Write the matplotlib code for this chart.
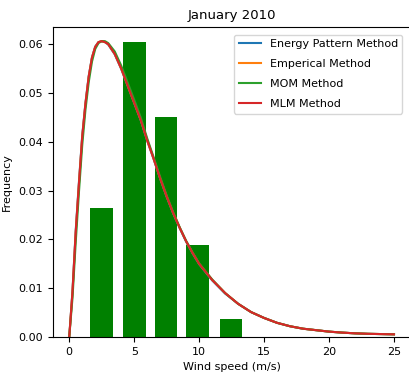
import matplotlib
matplotlib.use("Agg")
import matplotlib.pyplot as plt

plt.rcParams["font.size"] = 8

# histogram bars
bar_x = [2.5, 5.0, 7.45, 9.9, 12.45]
bar_h = [0.0264, 0.0604, 0.0450, 0.0188, 0.0037]

# fitted curves, values
speed = [0, 0.25, 0.5, 0.75, 1.0, 1.25, 1.5, 1.75, 2.0, 2.25, 2.5, 2.75, 3.0,
         3.5, 4.0, 4.5, 5.0, 5.5, 6.0, 6.5, 7.0, 7.5, 8.0, 8.5, 9.0, 9.5, 10.0,
         11, 12, 13, 14, 15, 16, 17, 18, 19, 20, 21, 22, 23, 24, 25]
mlm = [0, 0.0092, 0.0215, 0.0315, 0.0410, 0.0478, 0.0533, 0.0572, 0.0594,
       0.0604, 0.0606, 0.0604, 0.0600, 0.0580, 0.0550, 0.0515, 0.0480, 0.0445,
       0.0403, 0.0365, 0.0325, 0.0288, 0.0254, 0.0224, 0.0196, 0.0172, 0.0150,
       0.0117, 0.0090, 0.0068, 0.0051, 0.0039, 0.0029, 0.0022, 0.0017, 0.0014,
       0.0011, 0.0009, 0.00075, 0.00065, 0.0006, 0.00055]
mom = [0, 0.0080, 0.0195, 0.0298, 0.0393, 0.0466, 0.0522, 0.0564, 0.0590,
       0.0602, 0.0606, 0.0606, 0.0602, 0.0585, 0.0556, 0.0521, 0.0486, 0.0450,
       0.0407, 0.0368, 0.0328, 0.0290, 0.0256, 0.0225, 0.0197, 0.0173, 0.0151,
       0.0118, 0.0090, 0.0068, 0.0051, 0.0039, 0.0029, 0.0022, 0.0017, 0.0014,
       0.0011, 0.0009, 0.00075, 0.00065, 0.0006, 0.00055]
energy = [0, 0.0095, 0.0219, 0.0319, 0.0413, 0.0480, 0.0535, 0.0573, 0.0595,
          0.0604, 0.0606, 0.0604, 0.0599, 0.0579, 0.0549, 0.0514, 0.0479, 0.0444,
          0.0402, 0.0364, 0.0324, 0.0287, 0.0253, 0.0223, 0.0195, 0.0171, 0.0149,
          0.0116, 0.0089, 0.0068, 0.0051, 0.0039, 0.0029, 0.0022, 0.0017, 0.0014,
          0.0011, 0.0009, 0.00075, 0.00065, 0.0006, 0.00055]
emperical = mlm

fig = plt.figure(figsize=(4.09, 3.84), dpi=100)
ax = fig.add_axes([0.1296, 0.1224, 0.8734, 0.8073])

ax.bar(bar_x, bar_h, width=1.75, color="green")
ax.plot(speed, energy, label="Energy Pattern Method")
ax.plot(speed, emperical, label="Emperical Method")
ax.plot(speed, mom, label="MOM Method")
ax.plot(speed, mlm, label="MLM Method")

ax.set_xlim(-1.25, 26.25)
ax.set_ylim(0, 0.0635)
ax.set_xticks([0, 5, 10, 15, 20, 25])
ax.set_yticks([0.0, 0.01, 0.02, 0.03, 0.04, 0.05, 0.06])
ax.set_yticklabels(["0.00", "0.01", "0.02", "0.03", "0.04", "0.05", "0.06"])
ax.set_title("January 2010", fontsize=9.5)
ax.set_xlabel("Wind speed (m/s)")
ax.set_ylabel("Frequency", labelpad=5)
ax.legend(loc="upper right", labelspacing=0.9, borderaxespad=0.7)

fig.savefig("out.png", dpi=100)
